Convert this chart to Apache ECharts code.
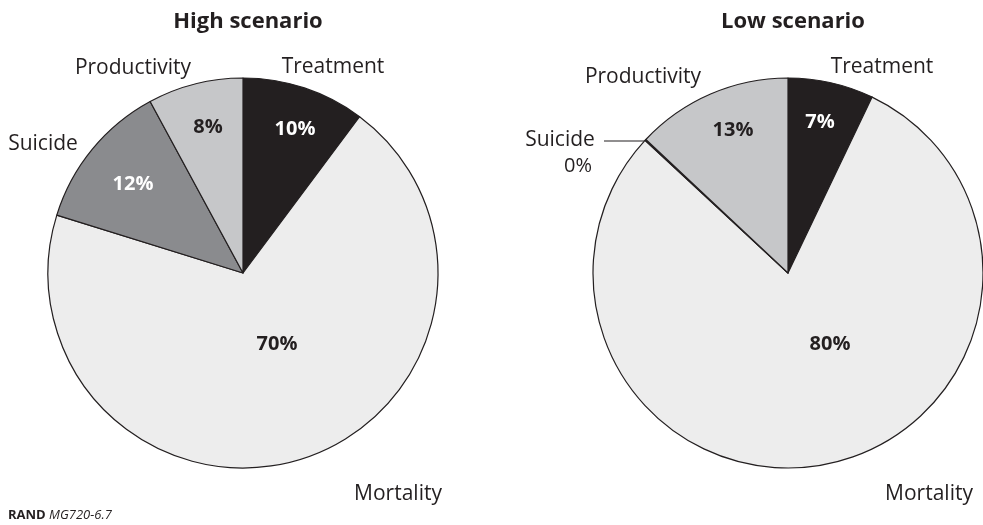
<!DOCTYPE html>
<html><head><meta charset="utf-8">
<script src="https://cdn.jsdelivr.net/npm/echarts@6/dist/echarts.min.js"></script>
<style>html,body{margin:0;padding:0;background:#fff}#c{width:983px;height:525px}</style>
</head><body><div id="c"></div>
<script>
// ---- data ----
const categories = ['Treatment', 'Mortality', 'Suicide', 'Productivity'];
const highValues = [10.2, 69.6, 12.3, 7.9];
const lowValues = [7.1, 79.8, 0.1, 13.0];
const titles = ['High scenario', 'Low scenario'];
const sourceNote = ['RAND', 'MG720-6.7'];

// ---- style ----
const colors = ['#231f20', '#ededed', '#8a8b8e', '#c6c7c9'];
const pctColors = [['#ffffff', '#231f20', '#ffffff', '#231f20'], ['#ffffff', '#231f20', '#231f20', '#231f20']];
const pctWeights = [['bold', 'bold', 'bold', 'bold'], ['bold', 'bold', 'normal', 'bold']];
const centers = [[243, 273], [788, 273]];
const R = 195;
const font = '"Open Sans", "Noto Sans", sans-serif';
const pctPos = [
  [[295, 129], [277, 344], [133, 184], [208, 127]],
  [[820, 122], [830, 344], [578, 166], [733, 130]]
];
const namePos = [
  [[333, 67], [398, 494], [43, 144], [133, 68]],
  [[882, 67], [929, 494], [560, 140], [643, 77]]
];

function mkData(vals, k) {
  return categories.map((c, i) => ({
    name: c, value: vals[i],
    itemStyle: { color: colors[i] },
    label: { color: pctColors[k][i], fontWeight: pctWeights[k][i] }
  }));
}

const series = [];
[highValues, lowValues].forEach((vals, k) => {
  series.push({
    type: 'pie', center: centers[k], radius: R, startAngle: 90, clockwise: true,
    silent: true, animation: false,
    data: mkData(vals, k),
    itemStyle: { borderColor: '#231f20', borderWidth: 1.2 },
    label: { show: true, position: 'inside', fontFamily: font, fontSize: 20, fontWeight: 'bold', overflow: 'none',
      formatter: p => Math.round(p.percent) + '%' },
    labelLine: { show: false },
    labelLayout: p => ({ x: pctPos[k][p.dataIndex][0], y: pctPos[k][p.dataIndex][1], align: 'center', verticalAlign: 'middle' })
  });
  series.push({
    type: 'pie', center: centers[k], radius: R, startAngle: 90, clockwise: true,
    silent: true, animation: false, z: 3,
    data: categories.map((c, i) => ({ name: c, value: vals[i] })),
    itemStyle: { color: 'rgba(0,0,0,0)', borderWidth: 0 },
    label: { show: true, position: 'outside', fontFamily: font, fontSize: 21, color: '#231f20', overflow: 'none',
      formatter: p => p.name },
    labelLine: { show: false },
    labelLayout: p => ({ x: namePos[k][p.dataIndex][0], y: namePos[k][p.dataIndex][1], align: 'center', verticalAlign: 'middle' })
  });
});

const chart = echarts.init(document.getElementById('c'), null, { renderer: 'canvas' });
chart.setOption({
  backgroundColor: '#fff',
  animation: false,
  title: [
    { text: titles[0], left: 243, top: 6, textAlign: 'center', textStyle: { fontFamily: font, fontSize: 22, fontWeight: 'bold', color: '#231f20' } },
    { text: titles[1], left: 788, top: 6, textAlign: 'center', textStyle: { fontFamily: font, fontSize: 22, fontWeight: 'bold', color: '#231f20' } }
  ],
  graphic: [
    { type: 'line', shape: { x1: 604, y1: 141, x2: 646, y2: 141 }, style: { stroke: '#231f20', lineWidth: 1.2 } },
    { type: 'text', left: 8, top: 509, style: {
        text: '{b|' + sourceNote[0] + '} {i|' + sourceNote[1] + '}',
        rich: { b: { fontFamily: font, fontSize: 13, fontWeight: 'bold', fill: '#231f20' },
                i: { fontFamily: font, fontSize: 13, fontStyle: 'italic', fill: '#231f20' } } } }
  ],
  series: series
});
</script>
</body></html>
